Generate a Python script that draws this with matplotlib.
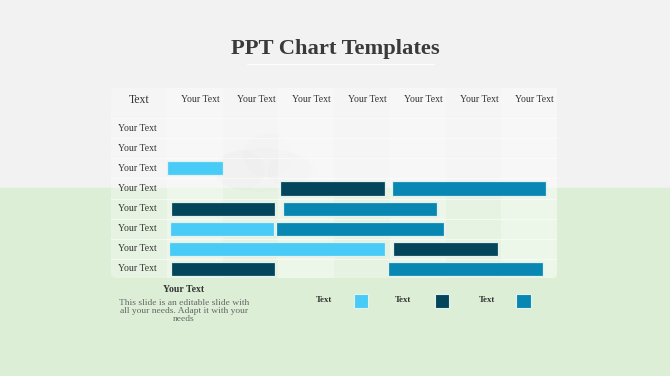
import matplotlib
matplotlib.use("Agg")
import matplotlib.pyplot as plt
from matplotlib.patches import Rectangle, FancyBboxPatch, Ellipse

# ---------------- data ----------------
title = "PPT Chart Templates"
corner_label = "Text"
column_labels = ["Your Text"] * 7
row_labels = ["Your Text"] * 8

series_names = ["Text", "Text", "Text"]
series_colors = ["#48CBF7", "#03455A", "#0887B3"]

# series 1 (light cyan)
s1_rows = [2, 5, 6]
s1_start = [0.00, 0.05, 0.04]
s1_end = [1.00, 1.92, 3.91]
# series 2 (dark teal)
s2_rows = [3, 4, 6, 7]
s2_start = [2.03, 0.07, 4.05, 0.07]
s2_end = [3.92, 1.95, 5.94, 1.95]
# series 3 (blue)
s3_rows = [3, 4, 5, 7]
s3_start = [4.04, 2.08, 1.96, 3.97]
s3_end = [6.80, 4.84, 4.98, 6.74]

note_title = "Your Text"
note_text = "This slide is an editable slide with\nall your needs. Adapt it with your\nneeds"

# ---------------- figure ----------------
W, H = 670, 376
fig = plt.figure(figsize=(W / 100, H / 100), dpi=100)
SERIF = ["Liberation Serif", "DejaVu Serif"]

bg = fig.add_axes([0, 0, 1, 1])
bg.set_xlim(0, W)
bg.set_ylim(H, 0)
bg.axis("off")

bg.add_patch(Rectangle((0, 0), W, 188, color="#F2F2F2", zorder=0))
bg.add_patch(Rectangle((0, 188), W, H - 188, color="#DCEFD6", zorder=0))

# faint cloud shape
for cx, cy, w, h in [(262, 170, 100, 44), (240, 170, 50, 40), (268, 155, 50, 44),
                     (292, 170, 50, 34)]:
    bg.add_patch(Ellipse((cx, cy), w, h, color="#000000", alpha=0.010, lw=0, zorder=1))

# title
bg.text(335.5, 49, title, ha="center", va="center", fontsize=16.2, fontweight="bold",
        color="#3A3A3A", family=SERIF, zorder=5)
bg.plot([247, 434], [63.5, 63.5], color="white", lw=0.8, alpha=0.9, zorder=5)

# table background
bg.add_patch(FancyBboxPatch((111, 88), 446, 190, boxstyle="round,pad=0,rounding_size=6",
                            facecolor="white", edgecolor="none", alpha=0.30, zorder=2))

# ---------------- gantt axes ----------------
x0, x1 = 111, 557
y0, y1 = 88, 278
ax = fig.add_axes([x0 / W, 1 - y1 / H, (x1 - x0) / W, (y1 - y0) / H])
ax.set_xlim(-1.0, 7.0)
ax.set_ylim(7.45, -2.0)
ax.axis("off")
ax.patch.set_alpha(0)

# alternating column shading
for i in range(0, 7, 2):
    ax.axvspan(i, i + 1, color="white", alpha=0.25, lw=0, zorder=1)
# faint row separators
for r in range(-1, 7):
    ax.axhline(r + 0.5, color="white", lw=0.8, alpha=0.5, zorder=1)

bar_h = 0.70
for rows, st, en, col in [(s1_rows, s1_start, s1_end, series_colors[0]),
                          (s2_rows, s2_start, s2_end, series_colors[1]),
                          (s3_rows, s3_start, s3_end, series_colors[2])]:
    widths = [e - s for s, e in zip(st, en)]
    ax.barh(rows, widths, left=st, height=bar_h, color=col, edgecolor="#E4F2EE",
            linewidth=0.9, zorder=3)

# header & labels
ax.text(-0.5, -1.38, corner_label, ha="center", va="center", fontsize=8.5,
        color="#333333", family=SERIF, zorder=5)
for i, lab in enumerate(column_labels):
    ax.text(i + 0.6, -1.42, lab, ha="center", va="center", fontsize=7.0,
            color="#333333", family=SERIF, zorder=5)
for r, lab in enumerate(row_labels):
    ax.text(-0.52, r, lab, ha="center", va="center", fontsize=7.0,
            color="#333333", family=SERIF, zorder=5)

# ---------------- bottom note & legend ----------------
bg.text(184, 289.5, note_title, ha="center", va="center", fontsize=7.0,
        fontweight="bold", color="#333333", family=SERIF, zorder=5)
bg.text(184, 311, note_text, ha="center", va="center", fontsize=6.8,
        color="#666666", family=SERIF, linespacing=1.0, zorder=5)

leg_text_x = [324, 403, 487]
leg_box_x = [353.5, 434.5, 516]
for name, col, tx, bx in zip(series_names, series_colors, leg_text_x, leg_box_x):
    bg.text(tx, 299.5, name, ha="center", va="center", fontsize=6.3,
            fontweight="bold", color="#333333", family=SERIF, zorder=5)
    bg.add_patch(Rectangle((bx, 293.5), 14.5, 14.5, facecolor=col,
                           edgecolor="#E4F2EE", lw=0.8, zorder=5))

fig.savefig("out.png", dpi=100)
